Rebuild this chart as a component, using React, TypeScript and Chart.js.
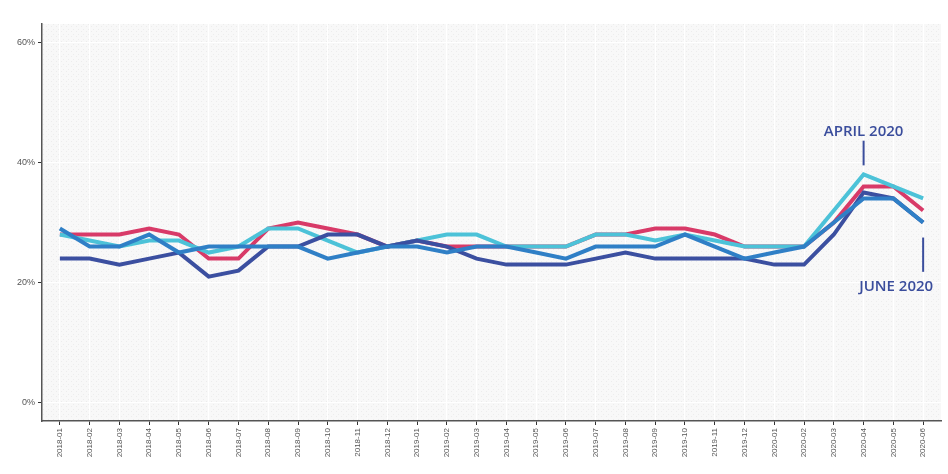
import React, { useEffect, useRef } from "react";
import { Chart, registerables } from "chart.js";

Chart.register(...registerables);

const months = [
  "2018-01", "2018-02", "2018-03", "2018-04", "2018-05", "2018-06", "2018-07", "2018-08", "2018-09", "2018-10", "2018-11", "2018-12",
  "2019-01", "2019-02", "2019-03", "2019-04", "2019-05", "2019-06", "2019-07", "2019-08", "2019-09", "2019-10", "2019-11", "2019-12",
  "2020-01", "2020-02", "2020-03", "2020-04", "2020-05", "2020-06",
];

const redSeries = [28, 28, 28, 29, 28, 24, 24, 29, 30, 29, 28, 26, 27, 26, 26, 26, 26, 26, 28, 28, 29, 29, 28, 26, 26, 26, 30, 36, 36, 32];
const cyanSeries = [28, 27, 26, 27, 27, 25, 26, 29, 29, 27, 25, 26, 27, 28, 28, 26, 26, 26, 28, 28, 27, 28, 27, 26, 26, 26, 32, 38, 36, 34];
const navySeries = [24, 24, 23, 24, 25, 21, 22, 26, 26, 28, 28, 26, 27, 26, 24, 23, 23, 23, 24, 25, 24, 24, 24, 24, 23, 23, 28, 35, 34, 30];
const blueSeries = [29, 26, 26, 28, 25, 26, 26, 26, 26, 24, 25, 26, 26, 25, 26, 26, 25, 24, 26, 26, 26, 28, 26, 24, 25, 26, 30, 34, 34, 30];

const yTicks = [0, 20, 40, 60];

const annotations = [
  { text: "APRIL 2020", month: "2020-04", textValue: 44.3, lineFrom: 43.6, lineTo: 39.5, align: "center" as CanvasTextAlign, dx: 0 },
  { text: "JUNE 2020", month: "2020-06", textValue: 18.6, lineFrom: 27.5, lineTo: 21.8, align: "right" as CanvasTextAlign, dx: 10 },
];

const NAVY = "#3a4d9c";

export default function App() {
  const ref = useRef<HTMLCanvasElement | null>(null);

  useEffect(() => {
    document.body.style.margin = "0";
    const canvas = ref.current;
    if (!canvas) return;

    const pc = document.createElement("canvas");
    pc.width = 5;
    pc.height = 5;
    const pctx = pc.getContext("2d")!;
    pctx.fillStyle = "#f8f8f8";
    pctx.fillRect(0, 0, 5, 5);
    pctx.fillStyle = "#ececec";
    pctx.fillRect(1, 1, 1, 1);
    pctx.fillRect(3, 4, 1, 1);

    const bgPlugin = {
      id: "bg",
      beforeDraw(chart: any) {
        const { ctx, chartArea } = chart;
        ctx.save();
        const pat = ctx.createPattern(pc, "repeat");
        ctx.fillStyle = pat || "#f7f7f7";
        ctx.fillRect(chartArea.left, chartArea.top, chartArea.right - chartArea.left, chartArea.bottom - chartArea.top);
        ctx.restore();
      },
    };

    const annPlugin = {
      id: "ann",
      afterDatasetsDraw(chart: any) {
        const { ctx } = chart;
        const xs = chart.scales.x;
        const ys = chart.scales.y;
        ctx.save();
        for (const a of annotations) {
          const x = xs.getPixelForValue(months.indexOf(a.month));
          ctx.strokeStyle = NAVY;
          ctx.lineWidth = 2;
          ctx.beginPath();
          ctx.moveTo(x, ys.getPixelForValue(a.lineFrom));
          ctx.lineTo(x, ys.getPixelForValue(a.lineTo));
          ctx.stroke();
          ctx.fillStyle = NAVY;
          ctx.font = "600 15px 'Open Sans'";
          ctx.textAlign = a.align;
          ctx.textBaseline = "alphabetic";
          ctx.fillText(a.text, x + a.dx, ys.getPixelForValue(a.textValue));
        }
        ctx.restore();
      },
    };

    const mk = (label: string, data: number[], color: string) => ({
      label,
      data: data.map((v, i) => ({ x: i, y: v })),
      borderColor: color,
      backgroundColor: color,
      borderWidth: 4,
      pointRadius: 0,
      tension: 0,
      fill: false,
    });

    const chart = new Chart(canvas, {
      type: "line",
      data: {
        datasets: [
          mk("Blue", blueSeries, "#2f7fc6"),
          mk("Navy", navySeries, "#3b4fa0"),
          mk("Cyan", cyanSeries, "#4cc2d8"),
          mk("Red", redSeries, "#d83a68"),
        ],
      },
      options: {
        animation: false,
        responsive: false,
        maintainAspectRatio: false,
        layout: { padding: { top: 24, right: 7, left: 0, bottom: 0 } },
        plugins: { legend: { display: false }, tooltip: { enabled: false } },
        scales: {
          x: {
            type: "linear",
            min: -0.6,
            max: months.length - 1 + 0.6,
            afterBuildTicks: (s: any) => {
              s.ticks = months.map((_, i) => ({ value: i }));
            },
            afterFit: (s: any) => {
              s.height = 53;
            },
            ticks: {
              autoSkip: false,
              maxRotation: 90,
              minRotation: 90,
              padding: 3,
              color: "#555",
              font: { family: "'Liberation Sans', Arial, sans-serif", size: 8 },
              callback: (v: any) => months[v] ?? "",
            },
            grid: { color: "#ffffff", lineWidth: 1, tickColor: "#333", tickLength: 4 },
            border: { display: true, color: "#555", width: 1.5 },
          },
          y: {
            type: "linear",
            min: -3,
            max: 63,
            afterBuildTicks: (s: any) => {
              s.ticks = yTicks.map((v) => ({ value: v }));
            },
            afterFit: (s: any) => {
              s.width = 42;
            },
            ticks: {
              padding: 3,
              color: "#555",
              font: { family: "'Liberation Sans', Arial, sans-serif", size: 9 },
              callback: (v: any) => v + "%",
            },
            grid: { color: "#ffffff", lineWidth: 1, tickColor: "#333", tickLength: 4 },
            border: { display: true, color: "#555", width: 1.5 },
          },
        },
      },
      plugins: [bgPlugin, annPlugin],
    } as any);

    return () => chart.destroy();
  }, []);

  return (
    <div style={{ position: "fixed", left: 0, top: 0, width: 948, height: 474, background: "#fff" }}>
      <canvas ref={ref} width={948} height={474} style={{ width: 948, height: 474, display: "block" }} />
    </div>
  );
}
